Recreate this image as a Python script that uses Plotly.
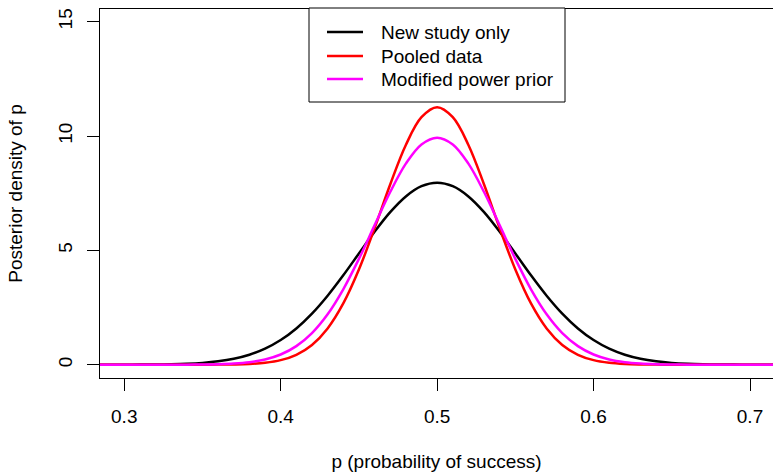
import plotly.graph_objects as go

# p grid (probability of success)
p_values = [0.28, 0.29, 0.30, 0.31, 0.32, 0.33, 0.34, 0.35, 0.36, 0.37, 0.38,
            0.39, 0.40, 0.41, 0.42, 0.43, 0.44, 0.45, 0.46, 0.47, 0.48, 0.49,
            0.50, 0.51, 0.52, 0.53, 0.54, 0.55, 0.56, 0.57, 0.58, 0.59, 0.60,
            0.61, 0.62, 0.63, 0.64, 0.65, 0.66, 0.67, 0.68, 0.69, 0.70, 0.71, 0.72]

new_study_only = [0.0002, 0.0006, 0.0016, 0.0038, 0.0089, 0.0194, 0.040, 0.078,
                  0.146, 0.258, 0.435, 0.700, 1.077, 1.585, 2.234, 3.018, 3.910,
                  4.865, 5.811, 6.671, 7.359, 7.806, 7.960, 7.806, 7.359, 6.671,
                  5.811, 4.865, 3.910, 3.018, 2.234, 1.585, 1.077, 0.700, 0.435,
                  0.258, 0.146, 0.078, 0.040, 0.0194, 0.0089, 0.0038, 0.0016,
                  0.0006, 0.0002]

pooled_data = [0.0, 0.0, 0.0, 0.0, 0.00001, 0.00006, 0.00026, 0.00099, 0.0035,
               0.011, 0.0317, 0.0829, 0.198, 0.432, 0.864, 1.587, 2.679, 4.163,
               5.963, 7.879, 9.609, 10.823, 11.260, 10.823, 9.609, 7.879, 5.963,
               4.163, 2.679, 1.587, 0.864, 0.432, 0.198, 0.0829, 0.0317, 0.011,
               0.0035, 0.00099, 0.00026, 0.00006, 0.00001, 0.0, 0.0, 0.0, 0.0]

modified_power_prior = [0.0, 0.00001, 0.00002, 0.00007, 0.00026, 0.00088, 0.0027,
                        0.0077, 0.0201, 0.0486, 0.109, 0.229, 0.446, 0.813, 1.384,
                        2.206, 3.298, 4.626, 6.096, 7.550, 8.792, 9.633, 9.930,
                        9.633, 8.792, 7.550, 6.096, 4.626, 3.298, 2.206, 1.384,
                        0.813, 0.446, 0.229, 0.109, 0.0486, 0.0201, 0.0077, 0.0027,
                        0.00088, 0.00026, 0.00007, 0.00002, 0.00001, 0.0]

series_names = ["New study only", "Pooled data", "Modified power prior"]
series_colors = ["#000000", "#FF0000", "#FF00FF"]

x_ticks = [0.3, 0.4, 0.5, 0.6, 0.7]
x_tick_labels = ["0.3", "0.4", "0.5", "0.6", "0.7"]
y_ticks = [0, 5, 10, 15]
y_tick_labels = ["0", "5", "10", "15"]

FONT = "Liberation Sans, Arial, Helvetica, sans-serif"
W, H = 773, 472
ML, MR, MT, MB = 100, 0, 9, 94
PW, PH = W - ML - MR, H - MT - MB


def px_x(px):
    return (px - ML) / PW


def px_y(py):
    return (H - MB - py) / PH


fig = go.Figure()
for name, ys, col in zip(series_names,
                         [new_study_only, pooled_data, modified_power_prior],
                         series_colors):
    fig.add_trace(go.Scatter(x=p_values, y=ys, mode="lines", name=name,
                             showlegend=False,
                             line=dict(color=col, width=2.5, shape="spline")))

axis_common = dict(showline=True, linecolor="black", linewidth=1, mirror=True,
                   ticks="outside", ticklen=12, tickwidth=1, tickcolor="black",
                   showgrid=False, zeroline=False,
                   tickfont=dict(family=FONT, size=19, color="black"))

# Legend box drawn like R's legend()
shapes = [dict(type="rect", xref="paper", yref="paper",
               x0=px_x(309), x1=px_x(565), y0=px_y(102), y1=px_y(8),
               line=dict(color="black", width=1), fillcolor="white", layer="above")]
annotations = []
row_y = [32, 56, 79]
for name, col, ry in zip(series_names, series_colors, row_y):
    shapes.append(dict(type="line", xref="paper", yref="paper",
                       x0=px_x(327), x1=px_x(363), y0=px_y(ry), y1=px_y(ry),
                       line=dict(color=col, width=2.5), layer="above"))
    annotations.append(dict(text=name, xref="paper", yref="paper",
                            x=px_x(379), y=px_y(ry + 0.5), xanchor="left",
                            yanchor="middle", showarrow=False,
                            font=dict(family=FONT, size=19, color="black")))

fig.update_layout(
    width=W, height=H,
    margin=dict(l=ML, r=MR, t=MT, b=MB),
    plot_bgcolor="white", paper_bgcolor="white",
    font=dict(family=FONT, size=19, color="black"),
    xaxis=dict(range=[0.2845, 0.7147], tickvals=x_ticks, ticktext=x_tick_labels,
               title=dict(text="p (probability of success)",
                          font=dict(family=FONT, size=19), standoff=33),
               ticklabelstandoff=9,
               **axis_common),
    yaxis=dict(range=[-0.582, 15.555], tickvals=y_ticks, ticktext=y_tick_labels,
               tickangle=-90,
               title=dict(text="Posterior density of p",
                          font=dict(family=FONT, size=19), standoff=27),
               ticklabelstandoff=7,
               **axis_common),
    shapes=shapes,
    annotations=annotations,
    showlegend=False,
)

fig.write_html("out.html")
